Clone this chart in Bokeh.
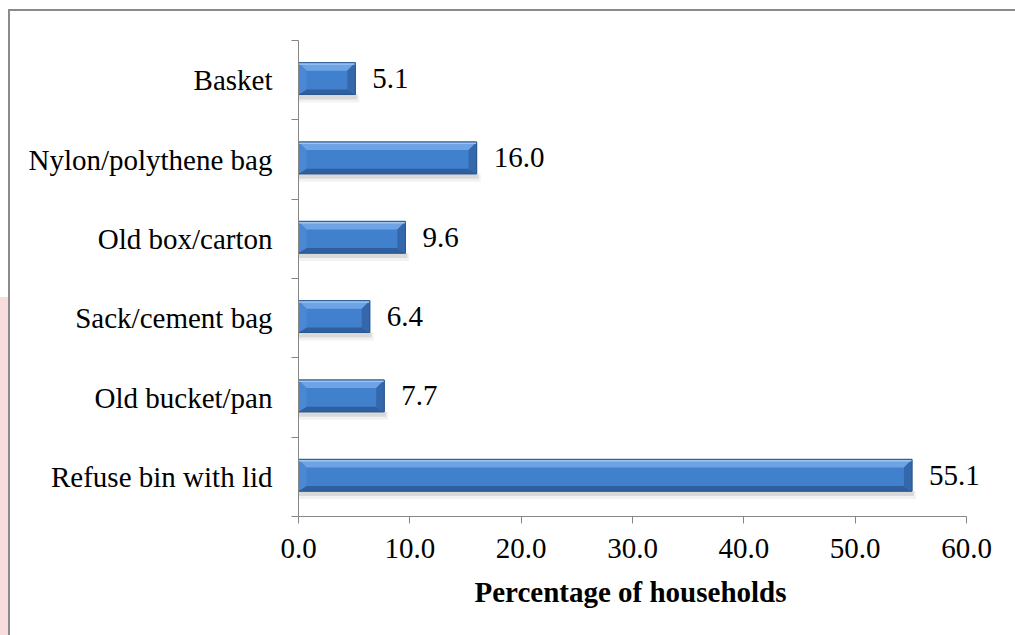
from bokeh.plotting import figure
from bokeh.models import FixedTicker, NumeralTickFormatter, ColumnDataSource, Title
from bokeh.core.properties import value
from bokeh.embed import file_html
from bokeh.resources import INLINE

# ---- data ----
categories = ["Refuse bin with lid", "Old bucket/pan", "Sack/cement bag",
              "Old box/carton", "Nylon/polythene bag", "Basket"]
percentages = [55.1, 7.7, 6.4, 9.6, 16.0, 5.1]
x_ticks = [0, 10, 20, 30, 40, 50, 60]
x_label = "Percentage of households"

FONT = "Liberation Serif"
FS = "29px"

W, H = 1015, 635
LEFT, TOP, BOTTOM = 298, 40, 119
AXIS_MAX = 60.0
px_x = (966 - LEFT) / AXIS_MAX             # pixels per x unit
RANGE_MAX = 64.0
RIGHT = int(round(W - LEFT - RANGE_MAX * px_x))
RANGE_MAX = (W - LEFT - RIGHT) / px_x
px_y = (H - TOP - BOTTOM) / len(categories)  # pixels per category

p = figure(width=W, height=H, output_backend="svg", toolbar_location=None,
           x_range=(0, RANGE_MAX), y_range=(-0.5, len(categories) - 0.5),
           min_border_left=LEFT, min_border_right=RIGHT,
           min_border_top=TOP, min_border_bottom=BOTTOM)
p.outline_line_color = None
p.grid.visible = False
p.background_fill_color = None
p.border_fill_color = None
p.styles = {
    "background": ("linear-gradient(#8a8a8a,#8a8a8a) 8px 9px / 2px 100% no-repeat, "
                   "linear-gradient(#8a8a8a,#8a8a8a) 8px 9px / 100% 2px no-repeat, "
                   "linear-gradient(#f9dcde,#f9dcde) 0px 297px / 8px 100% no-repeat, "
                   "#ffffff"),
}

ys = list(range(len(categories)))
half = 0.20
off = 0.02
bx = 8 / px_x      # horizontal bevel
bt = 8 / px_y      # top bevel
bb = 5 / px_y      # bottom bevel

# shadow
p.quad(left=[0] * len(ys), right=[v + 2 / px_x for v in percentages],
       top=[y + off - half for y in ys],
       bottom=[y + off - half - 5 / px_y for y in ys],
       fill_color="#000000", fill_alpha=0.10, line_color=None)
p.quad(left=[0] * len(ys), right=[v + 4 / px_x for v in percentages],
       top=[y + off - half for y in ys],
       bottom=[y + off - half - 8 / px_y for y in ys],
       fill_color="#000000", fill_alpha=0.05, line_color=None)

# base bar
p.quad(left=[0] * len(ys), right=percentages,
       top=[y + off + half for y in ys], bottom=[y + off - half for y in ys],
       fill_color="#4080cd", line_color="#2b5890", line_width=1)

# facets
top_xs, top_ys, bot_xs, bot_ys, l_xs, l_ys, r_xs, r_ys = [], [], [], [], [], [], [], []
for v, y in zip(percentages, ys):
    t = y + off + half
    b = y + off - half
    top_xs.append([0, v, v - bx, bx]); top_ys.append([t, t, t - bt, t - bt])
    bot_xs.append([0, v, v - bx, bx]); bot_ys.append([b, b, b + bb, b + bb])
    l_xs.append([0, bx, bx, 0]); l_ys.append([t, t - bt, b + bb, b])
    r_xs.append([v, v - bx, v - bx, v]); r_ys.append([t, t - bt, b + bb, b])

p.patches(xs=top_xs, ys=top_ys, fill_color="#6ea4e6", line_color=None)
p.patches(xs=bot_xs, ys=bot_ys, fill_color="#2f5f9f", line_color=None)
p.patches(xs=l_xs, ys=l_ys, fill_color="#4a88d3", line_color=None)
p.patches(xs=r_xs, ys=r_ys, fill_color="#3468aa", line_color=None)
# thin top highlight
p.quad(left=[0] * len(ys), right=percentages,
       top=[y + off + half for y in ys], bottom=[y + off + half - 2 / px_y for y in ys],
       fill_color="#9cc6f2", line_color=None)
# outline
p.quad(left=[0] * len(ys), right=percentages,
       top=[y + off + half for y in ys], bottom=[y + off - half for y in ys],
       fill_color=None, line_color="#2b5890", line_width=1)

# value labels
src = ColumnDataSource(dict(x=percentages, y=[y + off for y in ys],
                            t=[f"{v:.1f}" for v in percentages]))
p.text(x="x", y="y", text="t", source=src, x_offset=17,
       text_font=value(FONT), text_font_size=FS, text_color="black",
       text_baseline="middle", text_align="left")

# axes
ax = p.xaxis[0]
ax.ticker = FixedTicker(ticks=x_ticks)
ax.bounds = (0, AXIS_MAX)
ax.formatter = NumeralTickFormatter(format="0.0")
ax.axis_line_color = "#868686"
ax.major_tick_line_color = "#868686"
ax.major_tick_out = 7
ax.major_tick_in = 0
ax.minor_tick_line_color = None
ax.major_label_text_font = FONT
ax.major_label_text_font_size = FS
ax.major_label_text_color = "black"
ax.major_label_standoff = 15

# axis title, centred under the 0-60 axis span
p.add_layout(Title(text=x_label, align="left", offset=176,
                   text_font=FONT, text_font_size=FS, text_font_style="bold",
                   text_color="black", standoff=26), "below")

ay = p.yaxis[0]
ay.ticker = FixedTicker(ticks=ys, minor_ticks=[y - 0.5 for y in ys] + [len(ys) - 0.5])
ay.major_label_overrides = {i: c for i, c in enumerate(categories)}
ay.axis_line_color = "#868686"
ay.major_tick_line_color = None
ay.major_tick_out = 0
ay.major_tick_in = 0
ay.minor_tick_line_color = "#868686"
ay.minor_tick_out = 7
ay.minor_tick_in = 0
ay.major_label_text_font = FONT
ay.major_label_text_font_size = FS
ay.major_label_text_color = "black"
ay.major_label_standoff = 19

open("out.html", "w").write(file_html(p, INLINE))
